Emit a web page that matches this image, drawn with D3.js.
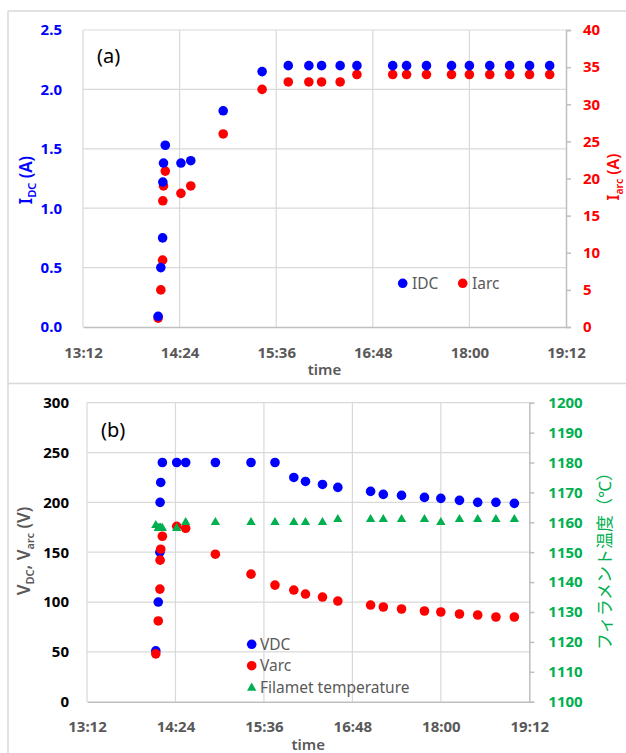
<!DOCTYPE html>
<html><head><meta charset="utf-8">
<script src="https://cdn.jsdelivr.net/npm/d3@7"></script>
<style>
body{margin:0;background:#fff;}
text{font-family:"Noto Sans","Noto Sans CJK JP",sans-serif;}
</style>
</head><body>
<svg id="c" width="626" height="753"></svg>
<script>
// ---- data ----
const times = ["14:08:00","14:10:00","14:11:20","14:11:30","14:12:00","14:13:20","14:25:00","14:32:20","14:56:30","15:25:30","15:45:00","16:00:20","16:09:50","16:23:40","16:36:10","17:02:50","17:13:10","17:28:00","17:46:40","18:00:00","18:15:10","18:30:00","18:44:50","18:59:50"];
const idc  = [0.09,0.50,0.75,1.22,1.38,1.53,1.38,1.40,1.82,2.15,2.20,2.20,2.20,2.20,2.20,2.20,2.20,2.20,2.20,2.20,2.20,2.20,2.20,2.20];
const iarc = [1.2,5,9,17,19,21,18,19,26,32,33,33,33,33,34,34,34,34,34,34,34,34,34,34];
const vdc  = [51,100,150,200,220,240,240,240,240,240,240,225,221,218,215,211,208,207,205,204,202,200,200,199];
const varc = [48,81,113,142,153,166,176,174,148,128,117,112,108,105,101,97,95,93,91,90,88,87,85,85];
const temp = [1159,1158,1158,1158,1158,1158,1158,1160,1160,1160,1160,1160,1160,1160,1161,1161,1161,1161,1161,1160,1161,1161,1161,1161];
const timeTicks = ["13:12","14:24","15:36","16:48","18:00","19:12"];
const idcTicks = [0,0.5,1,1.5,2,2.5];
const iarcTicks = [0,5,10,15,20,25,30,35,40];
const vTicks = [0,50,100,150,200,250,300];
const tTicks = [1100,1110,1120,1130,1140,1150,1160,1170,1180,1190,1200];

const parseT = d3.timeParse("%H:%M:%S");
const parseHM = d3.timeParse("%H:%M");
const tDates = times.map(parseT);
const tickDates = timeTicks.map(parseHM);

const BLUE="#0000ff", RED="#ff0000", GREEN="#00b050", GRAY="#595959", GRID="#d9d9d9", AX="#bfbfbf";
const svg = d3.select("#c");

// panel borders
const border = svg.append("g").attr("stroke","#d9d9d9").attr("stroke-width",1.5).attr("fill","none");
border.append("line").attr("x1",8).attr("x2",626).attr("y1",11).attr("y2",11);
border.append("line").attr("x1",8).attr("x2",8).attr("y1",11).attr("y2",753);
border.append("line").attr("x1",8).attr("x2",626).attr("y1",383.5).attr("y2",383.5);

function panel(cfg){
  const g = svg.append("g");
  const x = d3.scaleTime().domain([tickDates[0], tickDates[tickDates.length-1]]).range([cfg.x0,cfg.x1]);
  const yL = d3.scaleLinear().domain([cfg.lTicks[0], cfg.lTicks[cfg.lTicks.length-1]]).range([cfg.y0,cfg.y1]);
  const yR = d3.scaleLinear().domain([cfg.rTicks[0], cfg.rTicks[cfg.rTicks.length-1]]).range([cfg.y0,cfg.y1]);
  // grid
  const grid = g.append("g").attr("stroke",GRID).attr("stroke-width",1.2);
  grid.selectAll("line.h").data(cfg.lTicks.slice(1)).join("line")
    .attr("x1",cfg.x0).attr("x2",cfg.x1).attr("y1",d=>yL(d)).attr("y2",d=>yL(d));
  grid.selectAll("line.v").data(tickDates.slice(0,-1)).join("line")
    .attr("x1",d=>x(d)).attr("x2",d=>x(d)).attr("y1",cfg.y0).attr("y2",cfg.y1);
  // bottom axis
  const xa = g.append("g").attr("transform",`translate(0,${cfg.y0})`)
    .call(d3.axisBottom(x).tickValues(tickDates).tickFormat(d3.timeFormat("%H:%M")).tickSize(0).tickPadding(20));
  xa.select(".domain").attr("stroke",AX).attr("stroke-width",1.5);
  xa.selectAll("text").attr("fill",GRAY).attr("font-size",15).attr("font-weight","bold");
  // left axis
  const la = g.append("g").attr("transform",`translate(${cfg.x0},0)`)
    .call(d3.axisLeft(yL).tickValues(cfg.lTicks).tickFormat(cfg.lFmt).tickSize(0).tickPadding(cfg.lPad));
  la.select(".domain").remove();
  la.selectAll("text").attr("fill",cfg.lColor).attr("font-size",15).attr("font-weight","bold");
  // right axis
  const ra = g.append("g").attr("transform",`translate(${cfg.x1},0)`)
    .call(d3.axisRight(yR).tickValues(cfg.rTicks).tickFormat(d3.format("d")).tickSize(5).tickPadding(cfg.rPad));
  ra.select(".domain").attr("stroke",AX).attr("stroke-width",1.5);
  ra.selectAll("line").attr("stroke",AX).attr("stroke-width",1.5);
  ra.selectAll("text").attr("fill",cfg.rColor).attr("font-size",15).attr("font-weight","bold");
  // x title
  g.append("text").attr("x",(cfg.x0+cfg.x1)/2).attr("y",cfg.y0+48).attr("text-anchor","middle")
    .attr("fill",GRAY).attr("font-size",15).attr("font-weight","600").text("time");
  return {g,x,yL,yR};
}

// ---- panel (a) ----
const A = panel({x0:83,x1:566,y0:327,y1:30,lTicks:idcTicks,rTicks:iarcTicks,lFmt:d3.format(".1f"),
  lPad:21,rPad:12,lColor:BLUE,rColor:RED});
A.g.append("g").selectAll("circle").data(times.map((t,i)=>i)).join("circle")
  .attr("cx",i=>A.x(tDates[i])).attr("cy",i=>A.yR(iarc[i])).attr("r",4.8).attr("fill",RED);
A.g.append("g").selectAll("circle").data(times.map((t,i)=>i)).join("circle")
  .attr("cx",i=>A.x(tDates[i])).attr("cy",i=>A.yL(idc[i])).attr("r",4.8).attr("fill",BLUE);
A.g.append("text").attr("x",97).attr("y",63).attr("font-size",20).attr("fill","#000").text("(a)");
// legend (a)
const la = A.g.append("g").attr("font-size",15.5).attr("fill",GRAY);
la.append("circle").attr("cx",402.7).attr("cy",283.3).attr("r",4.8).attr("fill",BLUE);
la.append("text").attr("x",412).attr("y",288.5).text("IDC");
la.append("circle").attr("cx",462.7).attr("cy",283.3).attr("r",4.8).attr("fill",RED);
la.append("text").attr("x",472).attr("y",288.5).text("Iarc");
// axis titles (a)
const t1 = A.g.append("text").attr("transform","translate(32,180) rotate(-90)").attr("text-anchor","middle")
  .attr("fill",BLUE).attr("font-size",17).attr("font-weight","600");
t1.append("tspan").text("I");
t1.append("tspan").attr("font-size",11).attr("dy",4).text("DC");
t1.append("tspan").attr("dy",-4).text(" (A)");
const t2 = A.g.append("text").attr("transform","translate(619,177) rotate(-90)").attr("text-anchor","middle")
  .attr("fill",RED).attr("font-size",16).attr("font-weight","600");
t2.append("tspan").text("I");
t2.append("tspan").attr("font-size",10.5).attr("dy",3.5).text("arc");
t2.append("tspan").attr("dy",-3.5).text(" (A)");

// ---- panel (b) ----
const B = panel({x0:87,x1:529.3,y0:701.7,y1:402.7,lTicks:vTicks,rTicks:tTicks,lFmt:d3.format("d"),
  lPad:18,rPad:14,lColor:"#000",rColor:GREEN});
const tri = d3.symbol().type(d3.symbolTriangle).size(38);
B.g.append("g").selectAll("circle").data(times.map((t,i)=>i)).join("circle")
  .attr("cx",i=>B.x(tDates[i])).attr("cy",i=>B.yL(vdc[i])).attr("r",4.8).attr("fill",BLUE);
B.g.append("g").selectAll("circle").data(times.map((t,i)=>i)).join("circle")
  .attr("cx",i=>B.x(tDates[i])).attr("cy",i=>B.yL(varc[i])).attr("r",4.8).attr("fill",RED);
B.g.append("g").selectAll("path").data(times.map((t,i)=>i)).join("path")
  .attr("transform",i=>`translate(${B.x(tDates[i])},${B.yR(temp[i])})`).attr("d",tri).attr("fill",GREEN);
B.g.append("text").attr("x",101).attr("y",437).attr("font-size",20).attr("fill","#000").text("(b)");
// legend (b)
const lb = B.g.append("g").attr("font-size",15.5).attr("fill",GRAY);
lb.append("circle").attr("cx",251.7).attr("cy",644.3).attr("r",4.8).attr("fill",BLUE);
lb.append("text").attr("x",260).attr("y",649.5).text("VDC");
lb.append("circle").attr("cx",251.7).attr("cy",665.7).attr("r",4.8).attr("fill",RED);
lb.append("text").attr("x",260).attr("y",671).text("Varc");
lb.append("path").attr("transform","translate(251.7,688)").attr("d",tri).attr("fill",GREEN);
lb.append("text").attr("x",260).attr("y",692.5).text("Filamet temperature");
// axis titles (b)
const t3 = B.g.append("text").attr("transform","translate(30,551) rotate(-90)").attr("text-anchor","middle")
  .attr("fill",GRAY).attr("font-size",17).attr("font-weight","600");
t3.append("tspan").text("V");
t3.append("tspan").attr("font-size",11).attr("dy",4).text("DC");
t3.append("tspan").attr("dy",-4).text(", V");
t3.append("tspan").attr("font-size",11).attr("dy",4).text("arc");
t3.append("tspan").attr("dy",-4).text(" (V)");
B.g.append("text").attr("transform","translate(611,557) rotate(-90)").attr("text-anchor","middle")
  .attr("fill",GREEN).attr("font-size",17).attr("font-family","Noto Sans CJK JP").text("フィラメント温度（℃）");
</script>
</body></html>
